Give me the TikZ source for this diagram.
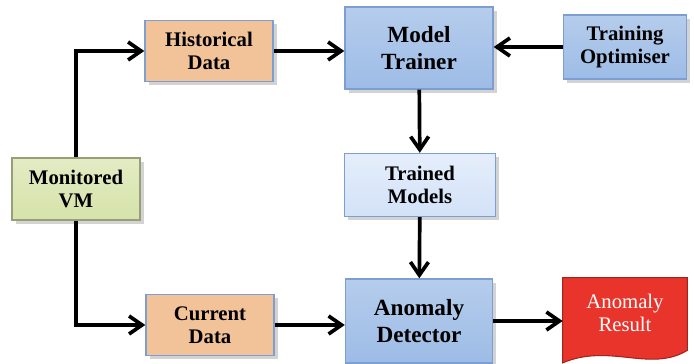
\documentclass[tikz,border=0pt]{standalone}
\usepackage{fontspec}
\setmainfont{Liberation Serif}
\usepackage{tikz}
\usetikzlibrary{arrows.meta,shadows,calc}

\definecolor{peach}{HTML}{F2C299}
\definecolor{edgeblue}{HTML}{7C9ED3}
\definecolor{boxblue}{HTML}{9DBCE6}
\definecolor{lightblue}{HTML}{D3E2F8}
\definecolor{vmgreen}{HTML}{D6E3AA}
\definecolor{resred}{HTML}{E8342A}

\tikzset{
  base/.style={draw=edgeblue, line width=0.8pt, align=center,
    font=\fontsize{11.8}{13}\selectfont\bfseries,
    drop shadow={opacity=0.35, shadow xshift=2pt, shadow yshift=-2pt}},
  databox/.style={base, fill=peach, minimum width=2.56cm, minimum height=1.22cm},
  blockbox/.style={base, top color=boxblue!75!white, bottom color=boxblue,
    font=\fontsize{13.2}{15}\selectfont\bfseries},
  lightbox/.style={base, top color=lightblue!60!white, bottom color=lightblue},
  vmbox/.style={base, draw=vmgreen!70!black, top color=vmgreen!70!white, bottom color=vmgreen},
  flow/.style={line width=2.1pt, -{Straight Barb[length=2.6mm,width=3.6mm]}}
}

\begin{document}
\begin{tikzpicture}
            \useasboundingbox (0,0) rectangle (13.88,7.28);

            \node[databox] (hist) at (4.18, 6.26) {Historical\\Data};
            \node[databox] (cur) at (4.2, 0.78) {Current\\Data};
            \node[vmbox, minimum width=2.56cm, minimum height=1.24cm] (vm) at (1.52, 3.5) {Monitored\\VM};

            \node[blockbox, minimum width=2.96cm, minimum height=1.64cm] (train) at (8.38, 6.32) {Model\\Trainer};
            \node[blockbox, font=\fontsize{11.8}{13}\selectfont\bfseries, minimum width=2.46cm, minimum height=1.28cm] (opt) at (12.5, 6.34) {Training\\Optimiser};
            \node[lightbox, minimum width=3.02cm, minimum height=1.26cm] (models) at (8.4, 3.58) {Trained\\Models};
            \node[blockbox, minimum width=2.94cm, minimum height=1.68cm] (det) at (8.38, 0.86) {Anomaly\\Detector};

            % result sheet with wavy bottom
            \node[minimum width=2.48cm, minimum height=1.64cm, align=center] (res) at (12.5, 0.9) {};
            \fill[black, opacity=0.3, xshift=2pt, yshift=-2pt]
              (res.north west) -- (res.north east) -- ($(res.south east)+(0,0.2)$)
              .. controls ($(res.south)+(0.5,-0.25)$) and ($(res.south)+(-0.3,0.35)$) .. ($(res.south west)+(0,-0.05)$) -- cycle;
            \draw[resred!70!black, fill=resred, line width=0.6pt]
              (res.north west) -- (res.north east) -- ($(res.south east)+(0,0.2)$)
              .. controls ($(res.south)+(0.5,-0.25)$) and ($(res.south)+(-0.3,0.35)$) .. ($(res.south west)+(0,-0.05)$) -- cycle;
            \node[text=white, font=\fontsize{11.8}{13.5}\selectfont, align=center] at ($(res.center)+(0,0.12)$) {Anomaly\\Result};

            \draw[flow] (vm) |- (hist);
            \draw[flow] (vm) |- (cur);
            \draw[flow] (hist) -- (hist -| train.west);
            \draw[flow] (opt) -- (opt -| train.east);
            \draw[flow] (train) -- (models);
            \draw[flow] (models) -- (det);
            \draw[flow] (cur) -- (cur -| det.west);
            \draw[flow] (det) -- (det -| res.west);
        \end{tikzpicture}
\end{document}
